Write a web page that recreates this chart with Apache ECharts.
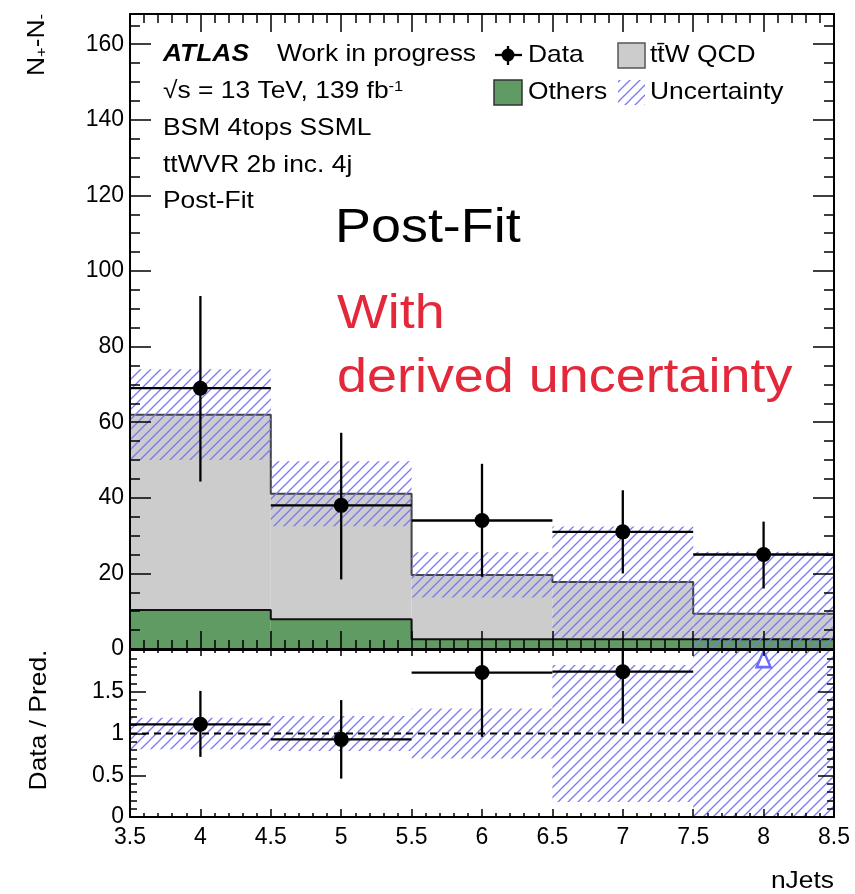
<!DOCTYPE html>
<html>
<head>
<meta charset="utf-8">
<script src="https://cdn.jsdelivr.net/npm/echarts@6/dist/echarts.min.js"></script>
<style>
html, body { margin: 0; padding: 0; background: #fff; }
#main { width: 855px; height: 894px; }
</style>
</head>
<body>
<div id="main"></div>
<script>
// nJets bins (centres, width 1)
var binCenters = [4, 5, 6, 7, 8];
// stacked prediction (post-fit)
var others = [10.3, 7.9, 2.6, 2.6, 2.6];
var ttwQcd = [51.7, 33.2, 17.0, 15.1, 6.7];
var predUnc = [12.0, 8.6, 6.0, 14.7, 16.4];
// data N+ - N-
var data = [69, 38, 34, 31, 25];
var dataErrUp = [24.4, 19.2, 15.0, 11.0, 8.7];
var dataErrDown = [24.7, 19.6, 14.9, 11.0, 9.0];
// ratio panel
var ratio = [1.11, 0.93, 1.73, 1.74, 2.70];
var ratioErrUp = [0.40, 0.47, 0.77, 0.62, 0.94];
var ratioErrDown = [0.39, 0.47, 0.77, 0.62, 0.97];
var ratioUnc = [0.19, 0.21, 0.30, 0.82, 1.76];
var ratioArrowY = 1.89;

var xMin = 3.5, xMax = 8.5;
var yMax = 168, ratioMax = 2;

var font = 'Liberation Sans, Arial, Helvetica, sans-serif';
var green = '#5f9b62', grey = '#cccccc', hatchBlue = '#7676ff';

function hatchPattern() {
    var c = document.createElement('canvas');
    c.width = 10; c.height = 10;
    var g = c.getContext('2d');
    g.strokeStyle = hatchBlue;
    g.lineWidth = 1.3;
    g.beginPath();
    g.moveTo(-1, 11); g.lineTo(11, -1);
    g.moveTo(-6, 6); g.lineTo(6, -6);
    g.moveTo(4, 16); g.lineTo(16, 4);
    g.stroke();
    return c;
}
var hatch = { image: hatchPattern(), repeat: 'repeat' };

var totals = binCenters.map(function (c, i) { return others[i] + ttwQcd[i]; });

function stepPoints(vals) {
    var pts = binCenters.map(function (c, i) { return [c - 0.5, vals[i]]; });
    pts.push([binCenters[binCenters.length - 1] + 0.5, vals[vals.length - 1]]);
    return pts;
}

function boxItem(style) {
    return function (params, api) {
        var a = api.coord([api.value(0) - 0.5, api.value(2)]);
        var b = api.coord([api.value(0) + 0.5, api.value(1)]);
        return {
            type: 'rect',
            shape: { x: a[0], y: a[1], width: b[0] - a[0], height: b[1] - a[1] },
            style: Object.assign({}, style)
        };
    };
}

function errorBars(params, api) {
    var c = api.value(0), v = api.value(1);
    var l = api.coord([c - 0.5, v]), r = api.coord([c + 0.5, v]);
    var t = api.coord([c, api.value(3)]), b = api.coord([c, api.value(2)]);
    return {
        type: 'group',
        children: [
            { type: 'line', shape: { x1: l[0], y1: l[1], x2: r[0], y2: r[1] }, style: { stroke: '#000', lineWidth: 2.3 } },
            { type: 'line', shape: { x1: t[0], y1: t[1], x2: b[0], y2: b[1] }, style: { stroke: '#000', lineWidth: 2.3 } }
        ]
    };
}

function xAx(grid, pos, major, minor, labels) {
    return {
        type: 'value', gridIndex: grid, position: pos, min: xMin, max: xMax, interval: 0.5, z: 10,
        axisLine: { show: true, onZero: false, lineStyle: { color: '#000', width: 2 } },
        axisTick: { show: true, inside: true, length: major, lineStyle: { color: '#000', width: 1.5 } },
        minorTick: { show: true, splitNumber: 5, length: minor, lineStyle: { color: '#000', width: 1.5 } },
        splitLine: { show: false }, minorSplitLine: { show: false },
        axisLabel: { show: labels, color: '#000', fontSize: 23, margin: 9, fontFamily: font,
            alignMinLabel: 'center', alignMaxLabel: 'center' }
    };
}

function yAx(grid, pos, max, interval, major, minor, labels, line) {
    return {
        type: 'value', gridIndex: grid, position: pos, min: 0, max: max, interval: interval, z: 10,
        axisLine: { show: line, onZero: false, lineStyle: { color: '#000', width: 2 } },
        axisTick: { show: true, inside: true, length: major, lineStyle: { color: '#000', width: 1.5 } },
        minorTick: { show: minor > 0, splitNumber: 5, length: minor, lineStyle: { color: '#000', width: 1.5 } },
        splitLine: { show: false }, minorSplitLine: { show: false },
        axisLabel: {
            show: labels, color: '#000', fontSize: 23, margin: 6, fontFamily: font,
            formatter: function (v) {
                var k = v / interval;
                return (v >= max || Math.abs(k - Math.round(k)) > 1e-6) ? '' : String(v);
            }
        }
    };
}

function txt(x, y, text, size, o) {
    o = o || {};
    return {
        type: 'text', x: x, y: y, z: 100,
        scaleX: o.scaleX || 1.1, rotation: o.rotation || 0,
        style: {
            text: text, fontSize: size, fontFamily: font,
            fontWeight: o.weight || 'normal', fontStyle: o.italic ? 'italic' : 'normal',
            fill: o.color || '#000', textAlign: o.align || 'left', textVerticalAlign: 'middle',
            rich: o.rich
        }
    };
}

var myChart = echarts.init(document.getElementById('main'));

var option = {
    animation: false,
    textStyle: { fontFamily: font },
    grid: [
        { left: 130, right: 21, top: 14, height: 635, outerBoundsMode: 'none' },
        { left: 130, right: 21, top: 650, height: 167, outerBoundsMode: 'none' }
    ],
    xAxis: [
        xAx(0, 'bottom', 18, 9, false),
        xAx(0, 'top', 18, 9, false),
        xAx(1, 'bottom', 8, 4, true),
        xAx(1, 'top', 6, 3, false)
    ],
    yAxis: [
        yAx(0, 'left', yMax, 20, 21, 0, true, true),
        yAx(0, 'right', yMax, 20, 21, 0, false, true),
        yAx(0, 'left', yMax, 5, 10, 0, false, false),
        yAx(0, 'right', yMax, 5, 10, 0, false, false),
        yAx(1, 'left', ratioMax, 0.5, 16, 7, true, true),
        yAx(1, 'right', ratioMax, 0.5, 16, 7, false, true)
    ],
    series: [
        {
            name: 'Others', type: 'custom', xAxisIndex: 0, yAxisIndex: 0, z: 2,
            renderItem: boxItem({ fill: green }),
            data: binCenters.map(function (c, i) { return [c, 0, others[i]]; })
        },
        {
            name: 'ttW QCD', type: 'custom', xAxisIndex: 0, yAxisIndex: 0, z: 2,
            renderItem: boxItem({ fill: grey }),
            data: binCenters.map(function (c, i) { return [c, others[i], totals[i]]; })
        },
        {
            type: 'line', step: 'end', xAxisIndex: 0, yAxisIndex: 0, z: 3, symbol: 'none',
            lineStyle: { color: '#444', width: 2 },
            data: stepPoints(totals)
        },
        {
            type: 'line', step: 'end', xAxisIndex: 0, yAxisIndex: 0, z: 3, symbol: 'none',
            lineStyle: { color: '#111', width: 2 },
            data: stepPoints(others)
        },
        {
            name: 'Uncertainty', type: 'custom', xAxisIndex: 0, yAxisIndex: 0, z: 4,
            renderItem: boxItem({ fill: hatch }),
            data: binCenters.map(function (c, i) {
                return [c, Math.max(totals[i] - predUnc[i], 0), Math.min(totals[i] + predUnc[i], yMax)];
            })
        },
        {
            type: 'custom', xAxisIndex: 0, yAxisIndex: 0, z: 5,
            renderItem: errorBars,
            data: binCenters.map(function (c, i) {
                return [c, data[i], data[i] - dataErrDown[i], data[i] + dataErrUp[i]];
            })
        },
        {
            name: 'Data', type: 'scatter', xAxisIndex: 0, yAxisIndex: 0, z: 6,
            symbol: 'circle', symbolSize: 15, itemStyle: { color: '#000', opacity: 1 },
            data: binCenters.map(function (c, i) { return [c, data[i]]; })
        },
        // ratio panel
        {
            type: 'custom', xAxisIndex: 2, yAxisIndex: 4, z: 2,
            renderItem: boxItem({ fill: hatch }),
            data: binCenters.map(function (c, i) {
                return [c, Math.max(1 - ratioUnc[i], 0), Math.min(1 + ratioUnc[i], ratioMax)];
            })
        },
        {
            type: 'line', xAxisIndex: 2, yAxisIndex: 4, z: 3, symbol: 'none',
            lineStyle: { color: '#000', width: 2, type: [7, 5] },
            data: [[xMin, 1], [xMax, 1]]
        },
        {
            type: 'custom', xAxisIndex: 2, yAxisIndex: 4, z: 5,
            renderItem: errorBars,
            data: binCenters.filter(function (c, i) { return ratio[i] <= ratioMax; }).map(function (c) {
                var i = binCenters.indexOf(c);
                return [c, ratio[i], Math.max(ratio[i] - ratioErrDown[i], 0), Math.min(ratio[i] + ratioErrUp[i], ratioMax)];
            })
        },
        {
            type: 'scatter', xAxisIndex: 2, yAxisIndex: 4, z: 6,
            symbol: 'circle', symbolSize: 15, itemStyle: { color: '#000', opacity: 1 },
            data: binCenters.filter(function (c, i) { return ratio[i] <= ratioMax; }).map(function (c) {
                return [c, ratio[binCenters.indexOf(c)]];
            })
        },
        {
            type: 'scatter', xAxisIndex: 2, yAxisIndex: 4, z: 6,
            symbol: 'triangle', symbolSize: [14, 16],
            itemStyle: { color: '#fff', borderColor: '#6a6aff', borderWidth: 2.5, opacity: 1 },
            data: binCenters.filter(function (c, i) { return ratio[i] > ratioMax; }).map(function (c) {
                return [c, ratioArrowY];
            })
        }
    ],
    graphic: [
        // axis titles
        txt(37, 14, 'N{sub|+}-N{sub|-}', 24, {
            rotation: Math.PI / 2, align: 'right',
            rich: { sub: { fontSize: 15, lineHeight: 15, verticalAlign: 'bottom', fontFamily: font } }
        }),
        txt(39, 720, 'Data / Pred.', 24, { rotation: Math.PI / 2, align: 'center' }),
        txt(834, 881, 'nJets', 24, { align: 'right' }),
        // ATLAS label block
        txt(163, 54, 'ATLAS', 24, { weight: 'bold', italic: true }),
        txt(277, 54, 'Work in progress', 24),
        txt(163, 91, '\u221As = 13 TeV, 139 fb{sup|-1}', 24, {
            rich: { sup: { fontSize: 15, lineHeight: 15, verticalAlign: 'top', fontFamily: font } }
        }),
        txt(163, 128, 'BSM 4tops SSML', 24),
        txt(163, 165, 'ttWVR 2b inc. 4j', 24),
        txt(163, 201, 'Post-Fit', 24),
        // big annotations
        txt(335, 228, 'Post-Fit', 49),
        txt(337, 314, 'With', 49, { color: '#e3283a' }),
        txt(337, 378, 'derived uncertainty', 49, { color: '#e3283a' }),
        // legend
        { type: 'line', z: 100, shape: { x1: 495, y1: 55, x2: 522, y2: 55 }, style: { stroke: '#000', lineWidth: 2.3 } },
        { type: 'line', z: 100, shape: { x1: 508, y1: 46, x2: 508, y2: 65 }, style: { stroke: '#000', lineWidth: 2.3 } },
        { type: 'circle', z: 100, shape: { cx: 508, cy: 55, r: 6.5 }, style: { fill: '#000' } },
        txt(528, 55, 'Data', 24),
        { type: 'rect', z: 100, shape: { x: 618, y: 43, width: 27, height: 25 }, style: { fill: grey, stroke: '#555', lineWidth: 1.5 } },
        txt(650, 55, 'tt\u0304W QCD', 24),
        { type: 'rect', z: 100, shape: { x: 494, y: 80, width: 28, height: 25 }, style: { fill: green, stroke: '#333', lineWidth: 1.5 } },
        txt(528, 92, 'Others', 24),
        { type: 'rect', z: 100, shape: { x: 618, y: 80, width: 27, height: 25 }, style: { fill: hatch } },
        txt(650, 92, 'Uncertainty', 24)
    ]
};

myChart.setOption(option);
</script>
</body>
</html>
